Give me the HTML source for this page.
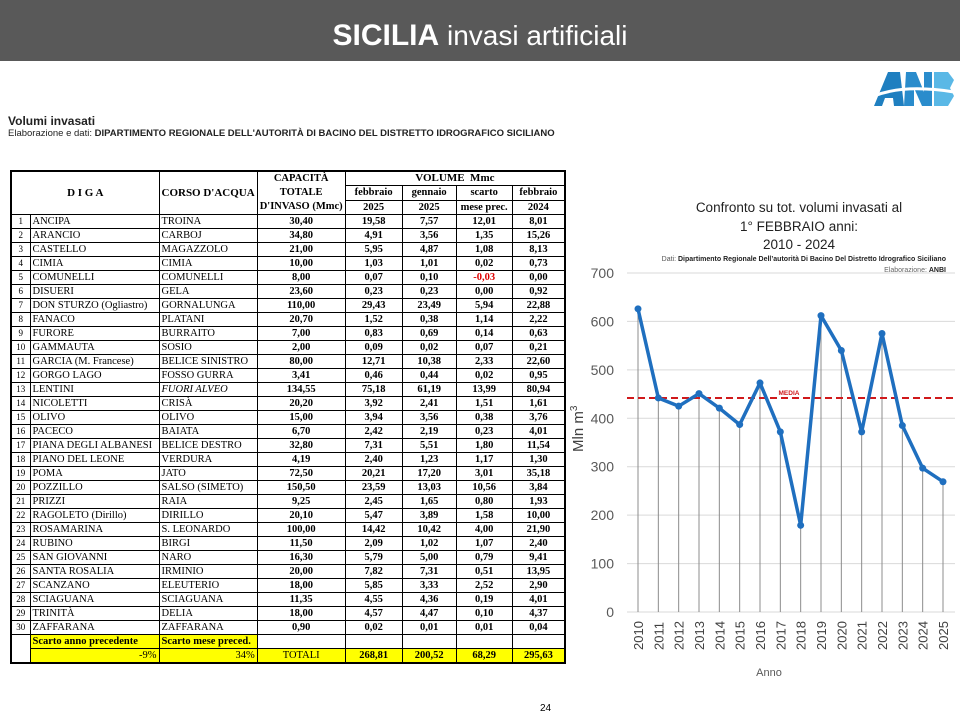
<!DOCTYPE html>
<html><head><meta charset="utf-8">
<style>
body{margin:0;width:960px;height:720px;position:relative;background:#fff;font-family:"Liberation Sans",sans-serif;overflow:hidden}
#hdr{position:absolute;left:0;top:0;width:960px;height:61px;background:#595959;color:#fff;text-align:center;line-height:72px;font-size:28px}
#hdr b{font-size:30px}
.ab{position:absolute}
table{border-collapse:collapse;font-family:"Liberation Serif",serif;font-size:10.5px;table-layout:fixed;position:absolute;left:10px;top:170px;border:2px solid #000}
td{border:1px solid #000;padding:0 2px;height:13px;line-height:13px;white-space:nowrap;overflow:hidden}
td.n{text-align:center;font-size:9px;padding:0}
td.v{text-align:center;font-weight:bold}
.h td{font-weight:bold;text-align:center}
.y{background:#ffff00;font-weight:bold}
</style></head><body>
<div id="hdr"><b>SICILIA</b> invasi artificiali</div>
<svg class="ab" style="left:874px;top:70px" width="80" height="38">
<polygon points="0,36 14,2 26,2 30,36 20,36 19,28 11,28 8,36" fill="#1f7fc0"/>
<polygon points="30,36 32,2 42,2 50,22 50,2 58,2 58,36 48,36 40,18 40,36" fill="#2a8ccc"/>
<polygon points="60,2 74,2 80,10 76,18 80,26 74,36 60,36" fill="#5ab8e6"/>
<path d="M0,26 Q30,14 80,22" stroke="#fff" stroke-width="3" fill="none"/>
</svg>
<div class="ab" style="left:8px;top:114px;font-size:12px;font-weight:bold;color:#222">Volumi invasati</div>
<div class="ab" style="left:8px;top:128px;font-size:9.5px;color:#222">Elaborazione e dati: <b>DIPARTIMENTO REGIONALE DELL'AUTORITÀ DI BACINO DEL DISTRETTO IDROGRAFICO SICILIANO</b></div>

<table id="tbl">
<colgroup><col style="width:19px"><col style="width:129px"><col style="width:98px"><col style="width:87px"><col style="width:57px"><col style="width:54px"><col style="width:56px"><col style="width:53px"></colgroup>
<tr class="h"><td colspan="2" rowspan="3" style="font-size:11px">D I G A</td><td rowspan="3" style="font-size:11px">CORSO D'ACQUA</td><td rowspan="3" style="line-height:14px">CAPACITÀ<br>TOTALE<br>D'INVASO (Mmc)</td><td colspan="4" style="font-size:11px">VOLUME &nbsp;Mmc</td></tr>
<tr class="h"><td>febbraio</td><td>gennaio</td><td>scarto</td><td>febbraio</td></tr>
<tr class="h"><td>2025</td><td>2025</td><td>mese prec.</td><td>2024</td></tr>
</table>

<svg class="ab" style="left:0;top:0" width="960" height="720" id="chart"></svg>
<div class="ab" style="left:540px;top:703px;font-size:10px">24</div>

<script>
const rows=[["ANCIPA","TROINA","30,40","19,58","7,57","12,01","8,01"],["ARANCIO","CARBOJ","34,80","4,91","3,56","1,35","15,26"],["CASTELLO","MAGAZZOLO","21,00","5,95","4,87","1,08","8,13"],["CIMIA","CIMIA","10,00","1,03","1,01","0,02","0,73"],["COMUNELLI","COMUNELLI","8,00","0,07","0,10","-0,03","0,00"],["DISUERI","GELA","23,60","0,23","0,23","0,00","0,92"],["DON STURZO (Ogliastro)","GORNALUNGA","110,00","29,43","23,49","5,94","22,88"],["FANACO","PLATANI","20,70","1,52","0,38","1,14","2,22"],["FURORE","BURRAITO","7,00","0,83","0,69","0,14","0,63"],["GAMMAUTA","SOSIO","2,00","0,09","0,02","0,07","0,21"],["GARCIA (M. Francese)","BELICE SINISTRO","80,00","12,71","10,38","2,33","22,60"],["GORGO LAGO","FOSSO GURRA","3,41","0,46","0,44","0,02","0,95"],["LENTINI","FUORI ALVEO","134,55","75,18","61,19","13,99","80,94"],["NICOLETTI","CRISÀ","20,20","3,92","2,41","1,51","1,61"],["OLIVO","OLIVO","15,00","3,94","3,56","0,38","3,76"],["PACECO","BAIATA","6,70","2,42","2,19","0,23","4,01"],["PIANA DEGLI ALBANESI","BELICE DESTRO","32,80","7,31","5,51","1,80","11,54"],["PIANO DEL LEONE","VERDURA","4,19","2,40","1,23","1,17","1,30"],["POMA","JATO","72,50","20,21","17,20","3,01","35,18"],["POZZILLO","SALSO (SIMETO)","150,50","23,59","13,03","10,56","3,84"],["PRIZZI","RAIA","9,25","2,45","1,65","0,80","1,93"],["RAGOLETO (Dirillo)","DIRILLO","20,10","5,47","3,89","1,58","10,00"],["ROSAMARINA","S. LEONARDO","100,00","14,42","10,42","4,00","21,90"],["RUBINO","BIRGI","11,50","2,09","1,02","1,07","2,40"],["SAN GIOVANNI","NARO","16,30","5,79","5,00","0,79","9,41"],["SANTA ROSALIA","IRMINIO","20,00","7,82","7,31","0,51","13,95"],["SCANZANO","ELEUTERIO","18,00","5,85","3,33","2,52","2,90"],["SCIAGUANA","SCIAGUANA","11,35","4,55","4,36","0,19","4,01"],["TRINITÀ","DELIA","18,00","4,57","4,47","0,10","4,37"],["ZAFFARANA","ZAFFARANA","0,90","0,02","0,01","0,01","0,04"]];
const tb=document.getElementById('tbl');
rows.forEach((r,i)=>{
 const tr=document.createElement('tr');
 
 
 let h='<td class="n">'+(i+1)+'</td><td>'+r[0]+'</td><td'+(r[1]=="FUORI ALVEO"?' style="font-style:italic"':'')+'>'+r[1]+'</td>';
 for(let k=2;k<7;k++)h+='<td class="v"'+(r[k][0]=='-'?' style="color:#d00"':'')+'>'+r[k]+'</td>';
 tr.innerHTML=h;tb.appendChild(tr);
});
const f1=document.createElement('tr');
f1.innerHTML='<td rowspan="2"></td><td class="y">Scarto anno precedente</td><td class="y">Scarto mese preced.</td><td></td><td></td><td></td><td></td><td></td>';
tb.appendChild(f1);
const f2=document.createElement('tr');
f2.innerHTML='<td class="y" style="text-align:right;font-weight:normal">-9%</td><td class="y" style="text-align:right;font-weight:normal">34%</td><td class="y" style="text-align:center;font-weight:normal">TOTALI</td><td class="y v">268,81</td><td class="y v">200,52</td><td class="y v">68,29</td><td class="y v">295,63</td>';
tb.appendChild(f2);

// chart data
const years=["2010","2011","2012","2013","2014","2015","2016","2017","2018","2019","2020","2021","2022","2023","2024","2025"];
const volumes=[626,442,425,451,421,387,473,372,179,612,540,372,575,385,297,269];
const mediaValue=442;
const yTicks=[0,100,200,300,400,500,600,700];

const svg=document.getElementById('chart');
const NS='http://www.w3.org/2000/svg';
const X0=638,XS=(943-638)/15,Y0=612,YT=273,YMAX=700;
const xp=i=>X0+i*XS, yp=v=>Y0-(v/YMAX)*(Y0-YT);
function el(t,a,txt){const e=document.createElementNS(NS,t);for(const k in a)e.setAttribute(k,a[k]);if(txt!=null)e.textContent=txt;svg.appendChild(e);return e;}
const tl=[["Confronto su tot. volumi invasati al",212],["1° FEBBRAIO anni:",231],["2010 - 2024",249]];
tl.forEach(t=>{const e=el('text',{x:799,y:t[1],'text-anchor':'middle','font-size':13.5,fill:'#222'},t[0]);});
let e=el('text',{x:946,y:261,'text-anchor':'end','font-size':7,fill:'#555'});e.innerHTML='Dati: <tspan font-weight="bold" fill="#222">Dipartimento Regionale Dell’autorità Di Bacino Del Distretto Idrografico Siciliano</tspan>';

e=el('text',{x:946,y:272,'text-anchor':'end','font-size':7,fill:'#666'});e.innerHTML='Elaborazione: <tspan font-weight="bold" fill="#222">ANBI</tspan>';

yTicks.forEach(v=>{
 e=el('line',{x1:627,x2:955,y1:yp(v),y2:yp(v),stroke:'#d9d9d9','stroke-width':1});
 
 e=el('text',{x:614,y:yp(v)+5,'text-anchor':'end','font-size':14,fill:'#595959'},v);
 
});
volumes.forEach((v,i)=>{
 e=el('line',{x1:xp(i),x2:xp(i),y1:yp(v),y2:Y0,stroke:'#8c8c8c','stroke-width':1});
 
});
years.forEach((y,i)=>{
 e=el('text',{x:0,y:0,transform:`translate(${xp(i)+5},${650}) rotate(-90)`,'font-size':13,fill:'#404040'},y);
 
});
e=el('line',{x1:627,x2:955,y1:yp(mediaValue),y2:yp(mediaValue),stroke:'#d0191b','stroke-width':2,'stroke-dasharray':'7,4'});

e=el('text',{x:789,y:yp(mediaValue)-3,'text-anchor':'middle','font-size':6.5,'font-weight':'bold',fill:'#d0191b'},'MEDIA');

e=el('polyline',{points:volumes.map((v,i)=>xp(i)+','+yp(v)).join(' '),fill:'none',stroke:'#1f6fbf','stroke-width':3.5,'stroke-linejoin':'round'});

volumes.forEach((v,i)=>{
 e=el('circle',{cx:xp(i),cy:yp(v),r:3.5,fill:'#1f6fbf'});
 
});
e=el('text',{x:0,y:0,transform:'translate(583,452) rotate(-90)','font-size':15,fill:'#404040'});e.innerHTML='Mln m<tspan dy="-6" font-size="10">3</tspan>';

e=el('text',{x:769,y:676,'text-anchor':'middle','font-size':11,fill:'#595959'},'Anno');

</script>
</body></html>
